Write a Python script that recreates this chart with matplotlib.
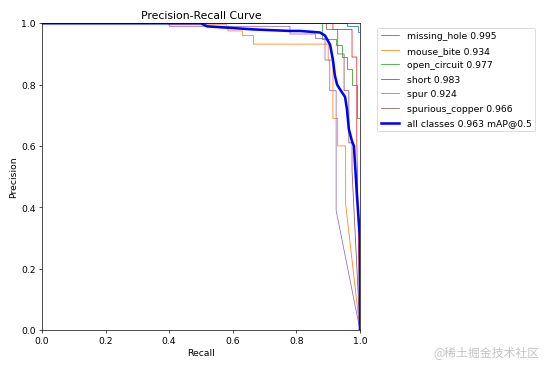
import matplotlib
matplotlib.use("Agg")
import matplotlib.pyplot as plt

# class names and mAP@0.5 values
names = ["missing_hole", "mouse_bite", "open_circuit", "short", "spur", "spurious_copper"]
ap = [0.995, 0.934, 0.977, 0.983, 0.924, 0.966]
map50 = 0.963

# per-class PR curves (recall, precision corners)
r_missing = [0, 0.96, 0.96, 0.995, 0.995, 1.0, 1.0]
p_missing = [1, 1, 0.99, 0.99, 0.97, 0.97, 0.0]

r_mouse = [0, 0.40, 0.40, 0.58, 0.58, 0.585, 0.585, 0.63, 0.63, 0.665, 0.665, 0.90, 0.90,
           0.915, 0.915, 0.93, 0.93, 0.955, 0.955, 1.0]
p_mouse = [1, 1, 0.995, 0.995, 0.99, 0.99, 0.975, 0.975, 0.96, 0.96, 0.932, 0.932, 0.88,
           0.88, 0.69, 0.69, 0.60, 0.60, 0.41, 0.0]

r_open = [0, 0.88, 0.88, 0.925, 0.925, 0.945, 0.945, 0.96, 0.96, 0.975, 0.975, 0.99, 0.99, 1.0, 1.0]
p_open = [1, 1, 0.95, 0.95, 0.93, 0.93, 0.89, 0.89, 0.85, 0.85, 0.80, 0.80, 0.69, 0.69, 0.0]

r_short = [0, 0.915, 0.915, 0.975, 0.975, 0.99, 0.99, 1.0]
p_short = [1, 1, 0.98, 0.98, 0.89, 0.89, 0.62, 0.0]

r_spur = [0, 0.40, 0.40, 0.78, 0.78, 0.86, 0.86, 0.89, 0.89, 0.905, 0.905, 0.925, 0.925, 1.0]
p_spur = [1, 1, 0.99, 0.99, 0.965, 0.965, 0.95, 0.95, 0.88, 0.88, 0.78, 0.78, 0.39, 0.0]

r_copper = [0, 0.895, 0.895, 0.93, 0.93, 0.95, 0.95, 0.965, 0.965, 0.975, 0.975, 1.0]
p_copper = [1, 1, 0.98, 0.98, 0.90, 0.90, 0.78, 0.78, 0.61, 0.61, 0.52, 0.0]

# mean curve over all classes
r_all = [0, 0.50, 0.519, 0.664, 0.78, 0.811, 0.874, 0.89, 0.906, 0.915, 0.921, 0.928,
         0.937, 0.953, 0.959, 0.965, 0.975, 0.981, 0.991, 1.0, 1.0]
p_all = [1, 1, 0.99, 0.98, 0.975, 0.975, 0.97, 0.96, 0.93, 0.88, 0.83, 0.80,
         0.785, 0.76, 0.72, 0.655, 0.615, 0.60, 0.43, 0.30, 0.0]

curves = [(r_missing, p_missing), (r_mouse, p_mouse), (r_open, p_open),
          (r_short, p_short), (r_spur, p_spur), (r_copper, p_copper)]

plt.rcParams["font.size"] = 10.8

fig = plt.figure(figsize=(9, 6))
ax = fig.add_axes([0.0759, 0.103, 0.575, 0.832])

for i, (r, p) in enumerate(curves):
    ax.plot(r, p, linewidth=0.9, color=f"C{i}", label=f"{names[i]} {ap[i]:.3f}")
ax.plot(r_all, p_all, linewidth=3, color="blue", label=f"all classes {map50:.3f} mAP@0.5")

ax.set_xlabel("Recall")
ax.set_ylabel("Precision")
ax.set_xlim(0, 1)
ax.set_ylim(0, 1)
ax.legend(bbox_to_anchor=(1.04, 1), loc="upper left", labelspacing=0.6)
ax.set_title("Precision-Recall Curve", fontsize=12.8)

fig.text(0.879, 0.043, "@稀土掘金技术社区", ha="center", va="center", fontsize=14,
         color="#c4c4c4", family=["Noto Sans CJK SC", "DejaVu Sans"])

fig.savefig("out.png", dpi=61.45)
